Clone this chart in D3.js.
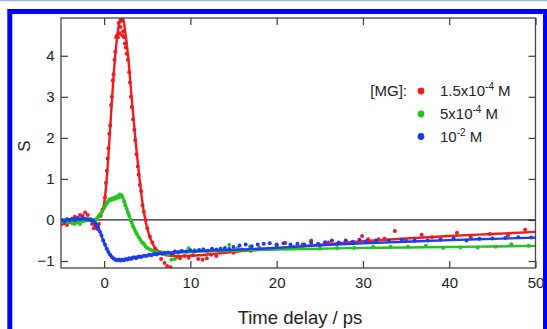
<!DOCTYPE html>
<html>
<head>
<meta charset="utf-8">
<script src="https://cdn.jsdelivr.net/npm/d3@7/dist/d3.min.js"></script>
<style>
  html, body { margin: 0; padding: 0; background: #fff; }
  svg { display: block; font-family: "Liberation Sans", Arial, Helvetica, sans-serif; }
</style>
</head>
<body>
<svg id="chart" width="547" height="329"></svg>
<script>
// Transient signal S versus pump-probe time delay for three [MG] concentrations.
const xTicks = [0, 10, 20, 30, 40, 50];
const yTicks = [-1, 0, 1, 2, 3, 4];

const seriesNames = ["1.5x10", "5x10", "10"];
const seriesExps = ["-4", "-4", "-2"];
const seriesColors = ["#ee1c1c", "#22c422", "#1a3df0"];

// measured points [delay (ps), S]
const redPoints = [
  [-4.9,-0.1],[-4.6,-0.08],[-4.3,-0.12],[-4.0,-0.05],[-3.7,0.02],[-3.4,0.08],[-3.1,0.05],[-2.8,0.12],
  [-2.5,0.1],[-2.2,0.18],[-1.9,0.12],[-1.6,0.02],[-1.4,-0.1],[-1.2,-0.2],[-1.0,-0.15],[-0.8,-0.22],
  [-0.6,-0.1],[-0.4,0.1],[-0.2,0.25],[0.0,0.3],[0.1,0.55],[0.2,0.9],[0.3,1.2],[0.4,1.5],[0.5,1.75],
  [0.6,2.1],[0.7,2.3],[0.8,2.8],[0.9,3.0],[1.0,3.4],[1.1,3.55],[1.2,3.9],[1.3,4.1],[1.4,4.45],
  [1.5,4.5],[1.6,4.45],[1.7,4.8],[1.8,4.55],[1.9,4.7],[2.0,4.85],[2.1,4.5],[2.2,4.6],[2.3,4.45],
  [2.4,4.3],[2.5,4.2],[2.6,4.05],[2.75,3.9],[2.9,3.6],[3.0,3.35],[3.1,3.0],[3.2,2.75],[3.35,2.45],
  [3.5,2.2],[3.6,1.95],[3.75,1.6],[3.9,1.3],[4.0,1.1],[4.15,0.85],[4.3,0.7],[4.45,0.35],[4.6,0.2],
  [4.8,0.0],[5.0,-0.2],[5.3,-0.4],[5.6,-0.55],[5.9,-0.7],[6.2,-0.8],[6.6,-0.95],[7.0,-1.05],
  [7.3,-1.12],[7.7,-1.15],[8.0,-0.85],[8.4,-0.9],[8.8,-0.93],[9.3,-0.88],[9.8,-0.92],[10.3,-0.86],
  [10.9,-0.95],[11.4,-0.97],[11.9,-0.93],[12.4,-0.85],[13,-0.88],[14,-0.78],[15,-0.8],[16,-0.72],
  [17,-0.75],[18,-0.68],[19,-0.7],[20,-0.62],[21,-0.56],[22,-0.66],[23,-0.6],[24,-0.5],[25,-0.62],
  [26,-0.55],[27,-0.58],[28,-0.52],[29,-0.55],[29.9,-0.39],[30.6,-0.47],[31.8,-0.47],[32.5,-0.45],
  [33.7,-0.27],[35,-0.5],[36.8,-0.36],[38,-0.42],[39,-0.47],[40.9,-0.31],[42.5,-0.42],[44.7,-0.34],
  [46.8,-0.38],[48.8,-0.24]
];
const greenPoints = [
  [-4.9,-0.05],[-4.6,-0.02],[-4.3,-0.06],[-4.0,-0.03],[-3.7,-0.08],[-3.4,-0.1],[-3.1,-0.06],[-2.8,-0.1],
  [-2.5,-0.04],[-2.2,-0.02],[-1.9,0.0],[-1.6,0.02],[-1.3,0.0],[-1.0,-0.02],[-0.8,0.05],[-0.6,0.1],
  [-0.4,0.15],[-0.2,0.22],[0,0.3],[0.15,0.35],[0.3,0.4],[0.45,0.45],[0.6,0.5],[0.75,0.48],[0.9,0.52],
  [1.05,0.5],[1.2,0.55],[1.35,0.52],[1.5,0.58],[1.65,0.55],[1.8,0.62],[1.95,0.6],[2.1,0.55],
  [2.3,0.45],[2.45,0.36],[2.6,0.28],[2.75,0.18],[2.9,0.1],[3.05,0.0],[3.2,-0.06],[3.35,-0.15],
  [3.5,-0.22],[3.65,-0.28],[3.8,-0.35],[4.0,-0.42],[4.2,-0.48],[4.4,-0.55],[4.6,-0.58],[4.8,-0.64],
  [5.0,-0.68],[5.3,-0.72],[5.6,-0.75],[5.9,-0.78],[6.2,-0.8],[6.6,-0.78],[7.0,-0.82],[7.4,-0.85],
  [7.8,-0.97],[8.2,-0.95],[8.6,-0.8],[9.0,-0.75],[9.8,-0.69],[10.5,-0.74],[11.5,-0.72],[12.5,-0.74],
  [13.5,-0.72],[14.5,-0.61],[15.5,-0.68],[16.9,-0.65],[18,-0.71],[19.5,-0.7],[21,-0.7],[23,-0.69],
  [25,-0.7],[27,-0.68],[29,-0.68],[31.2,-0.65],[33.2,-0.65],[35.2,-0.65],[37.3,-0.63],[39.3,-0.68],
  [41.3,-0.67],[43.3,-0.67],[45.4,-0.65],[47.2,-0.59],[49.2,-0.63]
];
const bluePoints = [
  [-4.9,0.0],[-4.6,-0.03],[-4.3,0.02],[-4.0,0.0],[-3.7,0.03],[-3.4,0.0],[-3.1,0.04],[-2.8,0.02],
  [-2.5,0.05],[-2.2,0.03],[-1.9,0.02],[-1.6,0.0],[-1.3,-0.03],[-1.1,-0.08],[-0.9,-0.12],[-0.7,-0.18],
  [-0.5,-0.28],[-0.3,-0.38],[-0.1,-0.5],[0.1,-0.6],[0.3,-0.7],[0.5,-0.78],[0.7,-0.85],[0.9,-0.9],
  [1.1,-0.94],[1.3,-0.97],[1.5,-0.98],[1.7,-0.96],[1.9,-0.99],[2.1,-0.97],[2.3,-0.98],[2.5,-0.95],
  [2.7,-0.96],[2.9,-0.93],[3.1,-0.95],[3.3,-0.92],[3.5,-0.91],[3.7,-0.93],[3.9,-0.9],[4.1,-0.89],
  [4.3,-0.9],[4.6,-0.87],[4.9,-0.88],[5.2,-0.85],[5.5,-0.86],[5.8,-0.83],[6.1,-0.84],[6.4,-0.81],
  [6.7,-0.82],[7.0,-0.8],[7.4,-0.79],[7.8,-0.81],[8.2,-0.77],[8.6,-0.78],[9.0,-0.76],[9.5,-0.77],
  [10,-0.74],[10.5,-0.76],[11,-0.73],[11.5,-0.72],[12,-0.75],[12.5,-0.7],[13,-0.72],[13.5,-0.7],
  [14,-0.68],[14.5,-0.71],[15,-0.66],[15.7,-0.62],[16.4,-0.6],[17.1,-0.64],[17.8,-0.6],[18.5,-0.58],
  [19.2,-0.57],[20,-0.6],[20.8,-0.57],[21.6,-0.6],[22.4,-0.58],[23.2,-0.6],[24,-0.55],[24.8,-0.58],
  [25.6,-0.54],[26.4,-0.5],[27.2,-0.55],[28,-0.5],[28.8,-0.53],[29.6,-0.48],[30.4,-0.52],[31.5,-0.5],
  [33,-0.5],[34.5,-0.48],[36,-0.5],[37.5,-0.5],[39,-0.48],[40.5,-0.45],[42,-0.5],[43.5,-0.46],
  [45,-0.45],[46.5,-0.44],[48,-0.42],[49.5,-0.43]
];

// fitted curves [delay (ps), S]
const redFit = [
  [-5,-0.02],[-2,0.0],[-1,0.02],[-0.5,0.1],[0,0.4],[0.3,1.0],[0.6,1.9],[0.9,2.9],[1.2,3.8],
  [1.5,4.45],[1.8,4.85],[2.0,4.95],[2.2,4.9],[2.5,4.5],[2.8,3.95],[3.1,3.2],[3.4,2.5],[3.7,1.8],
  [4.0,1.2],[4.3,0.65],[4.6,0.2],[4.9,-0.12],[5.3,-0.42],[5.8,-0.65],[6.5,-0.8],[7.5,-0.87],
  [9,-0.88],[11,-0.86],[13,-0.82],[16,-0.76],[20,-0.69],[25,-0.6],[30,-0.52],[35,-0.45],
  [40,-0.39],[45,-0.34],[50,-0.29]
];
const greenFit = [
  [-5,-0.03],[-2,-0.02],[-1,0.0],[-0.5,0.12],[0,0.3],[0.5,0.45],[1,0.52],[1.5,0.57],[2,0.62],
  [2.3,0.5],[2.6,0.3],[2.9,0.1],[3.2,-0.07],[3.5,-0.22],[3.8,-0.35],[4.2,-0.48],[4.6,-0.59],
  [5,-0.67],[5.5,-0.73],[6,-0.77],[7,-0.8],[8,-0.8],[10,-0.78],[15,-0.75],[20,-0.72],[25,-0.7],
  [30,-0.68],[35,-0.67],[40,-0.66],[45,-0.645],[50,-0.63]
];
const blueFit = [
  [-5,0.0],[-2,0.02],[-1.3,0.0],[-1,-0.06],[-0.6,-0.22],[-0.2,-0.45],[0.2,-0.66],[0.6,-0.83],
  [1,-0.93],[1.5,-0.97],[2,-0.97],[2.5,-0.96],[3,-0.94],[4,-0.9],[5,-0.86],[6,-0.83],[8,-0.79],
  [10,-0.76],[13,-0.74],[16,-0.72],[20,-0.68],[25,-0.62],[30,-0.57],[35,-0.53],[40,-0.49],
  [45,-0.46],[50,-0.43]
];

const svg = d3.select("#chart");
const W = 547, H = 329;
const plot = { left: 61, right: 535.5, top: 18, bottom: 268 };

// page frame: thin light rule at the top and a blue border
svg.append("rect").attr("x", 0).attr("y", 0).attr("width", W).attr("height", 1.2).attr("fill", "#93b6df");
svg.append("rect").attr("x", 9.8).attr("y", 11.5).attr("width", 535.7).attr("height", 340)
  .attr("fill", "none").attr("stroke", "#0000ff").attr("stroke-width", 5);

const x = d3.scaleLinear().domain([-5, 50]).range([plot.left, plot.right]);
const y = d3.scaleLinear().domain([-1.17, 4.92]).range([plot.bottom, plot.top]);

svg.append("defs").append("clipPath").attr("id", "plotClip")
  .append("rect").attr("x", plot.left).attr("y", plot.top)
  .attr("width", plot.right - plot.left).attr("height", plot.bottom - plot.top);

const fontSize = 15;
const tickLen = 7;
const intFmt = d3.format("d");

// axes with inward ticks on all four sides
const axisStyle = g => {
  g.select(".domain").remove();
  g.selectAll(".tick line").attr("stroke", "#3a3a3a").attr("stroke-width", 1.2);
  g.selectAll(".tick text").attr("fill", "#222").style("font-size", fontSize + "px");
};
svg.append("g").attr("transform", `translate(0,${plot.bottom})`)
  .call(d3.axisBottom(x).tickValues(xTicks).tickFormat(intFmt).tickSize(-tickLen).tickPadding(9).tickSizeOuter(0))
  .call(axisStyle);
svg.append("g").attr("transform", `translate(0,${plot.top})`)
  .call(d3.axisTop(x).tickValues(xTicks).tickSize(-tickLen).tickFormat("").tickSizeOuter(0))
  .call(axisStyle);
svg.append("g").attr("transform", `translate(${plot.left},0)`)
  .call(d3.axisLeft(y).tickValues(yTicks).tickFormat(intFmt).tickSize(-tickLen).tickPadding(6.5).tickSizeOuter(0))
  .call(axisStyle);
svg.append("g").attr("transform", `translate(${plot.right},0)`)
  .call(d3.axisRight(y).tickValues(yTicks).tickSize(-tickLen).tickFormat("").tickSizeOuter(0))
  .call(axisStyle);

// zero reference line
svg.append("line").attr("x1", plot.left).attr("x2", plot.right)
  .attr("y1", y(0)).attr("y2", y(0)).attr("stroke", "#222").attr("stroke-width", 1.3);

const series = [
  { pts: redPoints, fit: redFit, color: seriesColors[0] },
  { pts: greenPoints, fit: greenFit, color: seriesColors[1] },
  { pts: bluePoints, fit: blueFit, color: seriesColors[2] }
];

const line = d3.line().x(d => x(d[0])).y(d => y(d[1])).curve(d3.curveMonotoneX);
const data = svg.append("g").attr("clip-path", "url(#plotClip)");

series.forEach(s => {
  data.append("g").selectAll("circle").data(s.pts).join("circle")
    .attr("cx", d => x(d[0])).attr("cy", d => y(d[1])).attr("r", 2)
    .attr("fill", s.color);
  data.append("path").datum(s.fit).attr("d", line)
    .attr("fill", "none").attr("stroke", s.color).attr("stroke-width", 2.4)
    .attr("stroke-linejoin", "round");
});

// plot frame
svg.append("rect").attr("x", plot.left).attr("y", plot.top)
  .attr("width", plot.right - plot.left).attr("height", plot.bottom - plot.top)
  .attr("fill", "none").attr("stroke", "#444").attr("stroke-width", 1.3);

// axis titles
svg.append("text").attr("x", 300).attr("y", 324).attr("text-anchor", "middle")
  .style("font-size", "18.5px").attr("fill", "#222").text("Time delay / ps");
svg.append("text").attr("transform", "translate(30,146) rotate(-90)").attr("text-anchor", "middle")
  .style("font-size", "17px").attr("fill", "#222").text("S");

// legend
const legend = svg.append("g").style("font-size", fontSize + "px").attr("fill", "#222");
legend.append("text").attr("x", 407).attr("y", 96).attr("text-anchor", "end").text("[MG]:");
const rowY = [96, 119, 141.5];
seriesNames.forEach((name, i) => {
  legend.append("circle").attr("cx", 421).attr("cy", rowY[i] - 5).attr("r", 3.4)
    .attr("fill", seriesColors[i]);
  const t = legend.append("text").attr("x", 440).attr("y", rowY[i]);
  t.append("tspan").text(name);
  t.append("tspan").attr("dy", -6).style("font-size", "10px").text(seriesExps[i]);
  t.append("tspan").attr("dy", 6).text(" M");
});
</script>
</body>
</html>
